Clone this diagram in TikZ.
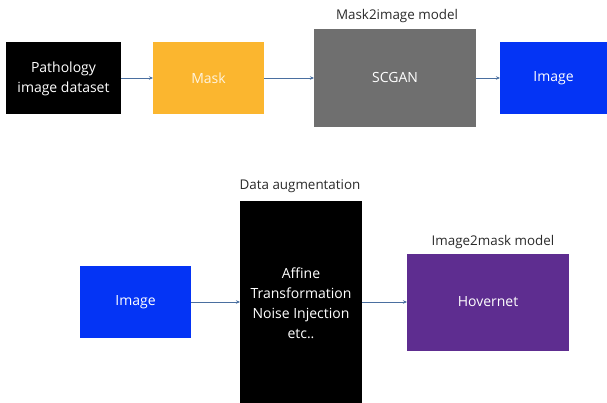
\documentclass[tikz,border=0pt]{standalone}
\usepackage{fontspec}
\setmainfont{Open Sans}
\usetikzlibrary{arrows.meta}
\definecolor{myyellow}{HTML}{FBB62F}
\definecolor{mygray}{HTML}{6F6F6F}
\definecolor{myblue}{HTML}{0434F5}
\definecolor{mypurple}{HTML}{5E2D90}
\definecolor{arrowc}{HTML}{4A6FA0}
\definecolor{labelc}{HTML}{2A2A2A}
\tikzset{
  conn/.style={draw=arrowc,line width=0.8pt,-{Stealth[length=4pt,width=3.5pt]}},
  boxtext/.style={text=white,font=\fontsize{14}{20}\selectfont,align=center},
  lbl/.style={text=labelc,font=\fontsize{13.4}{16}\selectfont}
}
\begin{document}
\begin{tikzpicture}[x=1pt,y=-1pt]
\useasboundingbox (0,0) rectangle (607,403);
% top row
\fill[black] (6,42) rectangle (121,114);
\node[boxtext] (pd) at (63.5,79) {Pathology\\image dataset};
\coordinate (pdR) at (121,78);
\fill[myyellow] (153,42) rectangle (264,114);
\node[boxtext,text=white!85!myyellow] (mask) at (208.5,78) {Mask};
\coordinate (maskL) at (153,78);
\coordinate (maskR) at (264,78);
\fill[mygray] (314,29) rectangle (476,127);
\node[boxtext] (scgan) at (395,78) {SCGAN};
\coordinate (scganL) at (314,78);
\coordinate (scganR) at (476,78);
\node[lbl] (l1) at (397,16) {Mask2image model};
\fill[myblue] (500,42) rectangle (607,114);
\node[boxtext] (img1) at (553.5,78) {Image};
\coordinate (img1L) at (500,78);
\draw[conn] (pdR) -- (maskL);
\draw[conn] (maskR) -- (scganL);
\draw[conn] (scganR) -- (img1L);
% bottom row
\fill[myblue] (80,266) rectangle (191,338);
\node[boxtext] (img2) at (135.5,302) {Image};
\coordinate (img2R) at (191,302);
\fill[black] (240,201) rectangle (362,403);
\node[boxtext] (aug) at (301,303) {Affine\\Transformation\\Noise Injection\\etc..};
\coordinate (augL) at (240,302);
\coordinate (augR) at (362,302);
\node[lbl] (l2) at (300,186) {Data augmentation};
\fill[mypurple] (407,254) rectangle (569,351);
\node[boxtext] (hv) at (488,302) {Hovernet};
\coordinate (hvL) at (407,302);
\node[lbl] (l3) at (493,242) {Image2mask model};
\draw[conn] (img2R) -- (augL);
\draw[conn] (augR) -- (hvL);
\end{tikzpicture}
\end{document}
